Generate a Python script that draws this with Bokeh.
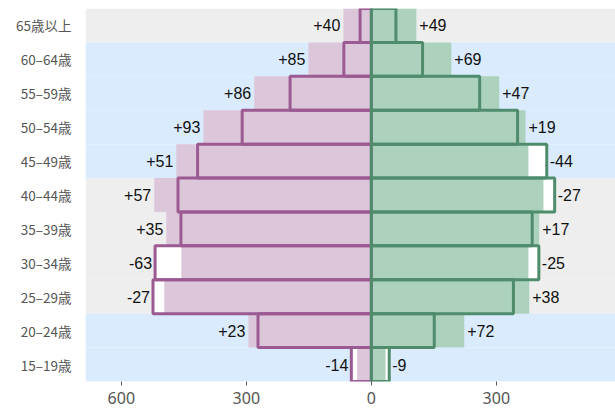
from bokeh.plotting import figure
from bokeh.models import FactorRange, ColumnDataSource, FixedTicker
from bokeh.core.properties import value
from bokeh.embed import file_html
from bokeh.resources import INLINE

categories = ["65歳以上", "60–64歳", "55–59歳", "50–54歳", "45–49歳", "40–44歳",
              "35–39歳", "30–34歳", "25–29歳", "20–24歳", "15–19歳"]
left_new = [67, 151, 281, 403, 468, 521, 492, 456, 497, 295, 34]
left_diff = [40, 85, 86, 93, 51, 57, 35, -63, -27, 23, -14]
right_new = [108, 192, 307, 370, 377, 413, 403, 377, 379, 223, 34]
right_diff = [49, 69, 47, 19, -44, -27, 17, -25, 38, 72, -9]
band_kind = ["gray", "blue", "blue", "blue", "blue", "gray", "gray", "gray", "gray", "blue", "blue"]
tick_values = [-600, -300, 0, 300, 600]

left_old = [n - d for n, d in zip(left_new, left_diff)]
right_old = [n - d for n, d in zip(right_new, right_diff)]

XMIN, XMAX = -686, 586

p = figure(width=615, height=408, output_backend="svg", toolbar_location=None,
           y_range=FactorRange(*reversed(categories)), x_range=(XMIN, XMAX),
           min_border_left=85, min_border_right=0, min_border_top=8, min_border_bottom=27)
p.outline_line_color = None
p.background_fill_color = "white"
p.grid.visible = False

band_colors = ["#eeeeee" if k == "gray" else "#d9ebfd" for k in band_kind]
p.hbar(y=categories, height=1, left=XMIN, right=XMAX, fill_color=band_colors, line_color=None)

PF, PL = "#dcc6d9", "#9c5a93"
GF, GL = "#acd2be", "#4e8c6c"

# white underlay for old bars
p.hbar(y=categories, height=1, left=[-v for v in left_old], right=0, fill_color="white", line_color=None)
p.hbar(y=categories, height=1, left=0, right=right_old, fill_color="white", line_color=None)
# new (filled) bars
p.hbar(y=categories, height=1, left=[-v for v in left_new], right=0, fill_color=PF, line_color=None)
p.hbar(y=categories, height=1, left=0, right=right_new, fill_color=GF, line_color=None)
# old outline bars
p.hbar(y=categories, height=1, left=[-v for v in left_old], right=0, fill_color=None,
       line_color=PL, line_width=3)
p.hbar(y=categories, height=1, left=0, right=right_old, fill_color=None,
       line_color=GL, line_width=3)

def fmt(d):
    return ("+%d" % d) if d > 0 else ("%d" % d)

ls = ColumnDataSource(dict(y=categories,
                           x=[-max(a, b) for a, b in zip(left_new, left_old)],
                           t=[fmt(d) for d in left_diff]))
rs = ColumnDataSource(dict(y=categories,
                           x=[max(a, b) for a, b in zip(right_new, right_old)],
                           t=[fmt(d) for d in right_diff]))
p.text(x="x", y="y", text="t", source=ls, text_align="right", text_baseline="middle",
       x_offset=-3, text_font=value("Liberation Sans"), text_font_size="16px", text_color="#111111")
p.text(x="x", y="y", text="t", source=rs, text_align="left", text_baseline="middle",
       x_offset=3, text_font=value("Liberation Sans"), text_font_size="16px", text_color="#111111")

p.xaxis.ticker = FixedTicker(ticks=tick_values)
p.xaxis.major_label_overrides = {v: str(abs(v)) for v in tick_values}
p.xaxis.axis_line_color = None
p.xaxis.minor_tick_line_color = None
p.xaxis.major_tick_in = 0
p.xaxis.major_tick_out = 4
p.xaxis.major_tick_line_color = "#555555"
p.xaxis.major_label_text_font = "Noto Sans"
p.xaxis.major_label_text_font_size = "16px"
p.xaxis.major_label_text_color = "#555555"
p.xaxis.major_label_standoff = 6

p.yaxis.axis_line_color = None
p.yaxis.major_tick_line_color = None
p.yaxis.minor_tick_line_color = None
p.yaxis.major_label_text_font = "Noto Sans CJK JP"
p.yaxis.major_label_text_font_size = "13.5px"
p.yaxis.major_label_text_color = "#555555"
p.yaxis.major_label_standoff = 8

open("out.html", "w").write(file_html(p, INLINE))
